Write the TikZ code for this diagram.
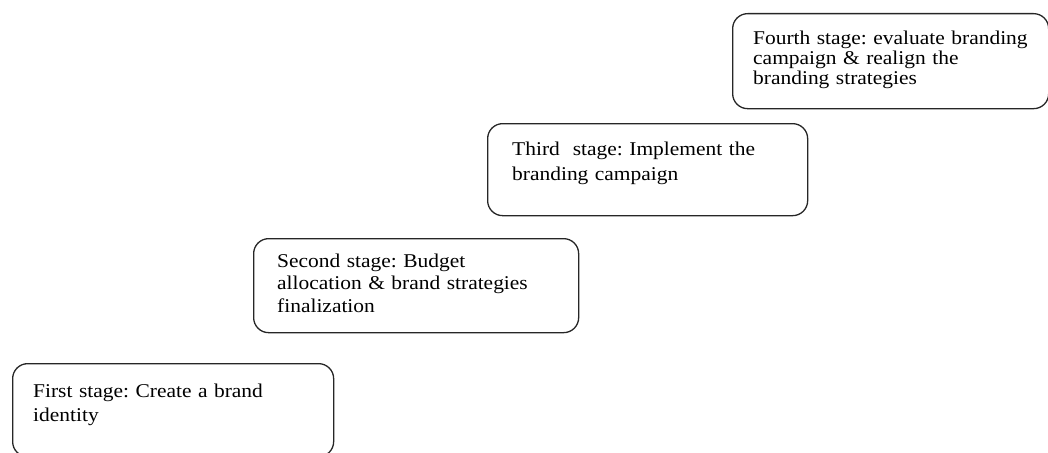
\documentclass[tikz,border=0pt]{standalone}
\usepackage{fontspec}
\setmainfont{Liberation Serif}[FakeStretch=1.1]
\usepackage{tikz}
\usetikzlibrary{positioning}
\frenchspacing
\tikzset{
    stage/.style={draw=black!85,line width=1.3pt,rounded corners=15pt,inner sep=0pt,anchor=north west},
    stagetext/.style={anchor=base west,inner sep=0pt,text width=300pt,align=left,
        font=\fontsize{19.5}{#1}\selectfont},
}
\newcommand{\stage}[9] {
    \node[stage,minimum width=#4,minimum height=#5] (#1) at (#2, #3) {};
    \node[stagetext=#8] (#1-text) at (#6, #7) {#9};
}

\begin{document}
\begin{tikzpicture}[x=1pt,y=-1pt]
        \useasboundingbox (0,0) rectangle (1048,452);
        \clip (0,0) rectangle (1048,452);
        \stage{first}{12}{363}{321pt}{93pt}{33}{397}{24pt}{First stage: Create a brand\\identity}
        \stage{second}{253}{238}{325pt}{94pt}{277}{267}{22.5pt}{Second stage: Budget\\allocation \& brand strategies\\finalization}
        \stage{third}{487}{123}{320pt}{92pt}{512}{155}{25pt}{Third~ stage: Implement the\\branding campaign}
        \stage{fourth}{732}{13}{316pt}{95pt}{753}{45}{20pt}{Fourth stage: evaluate branding\\campaign \& realign the\\branding strategies}
    \end{tikzpicture}
\end{document}
